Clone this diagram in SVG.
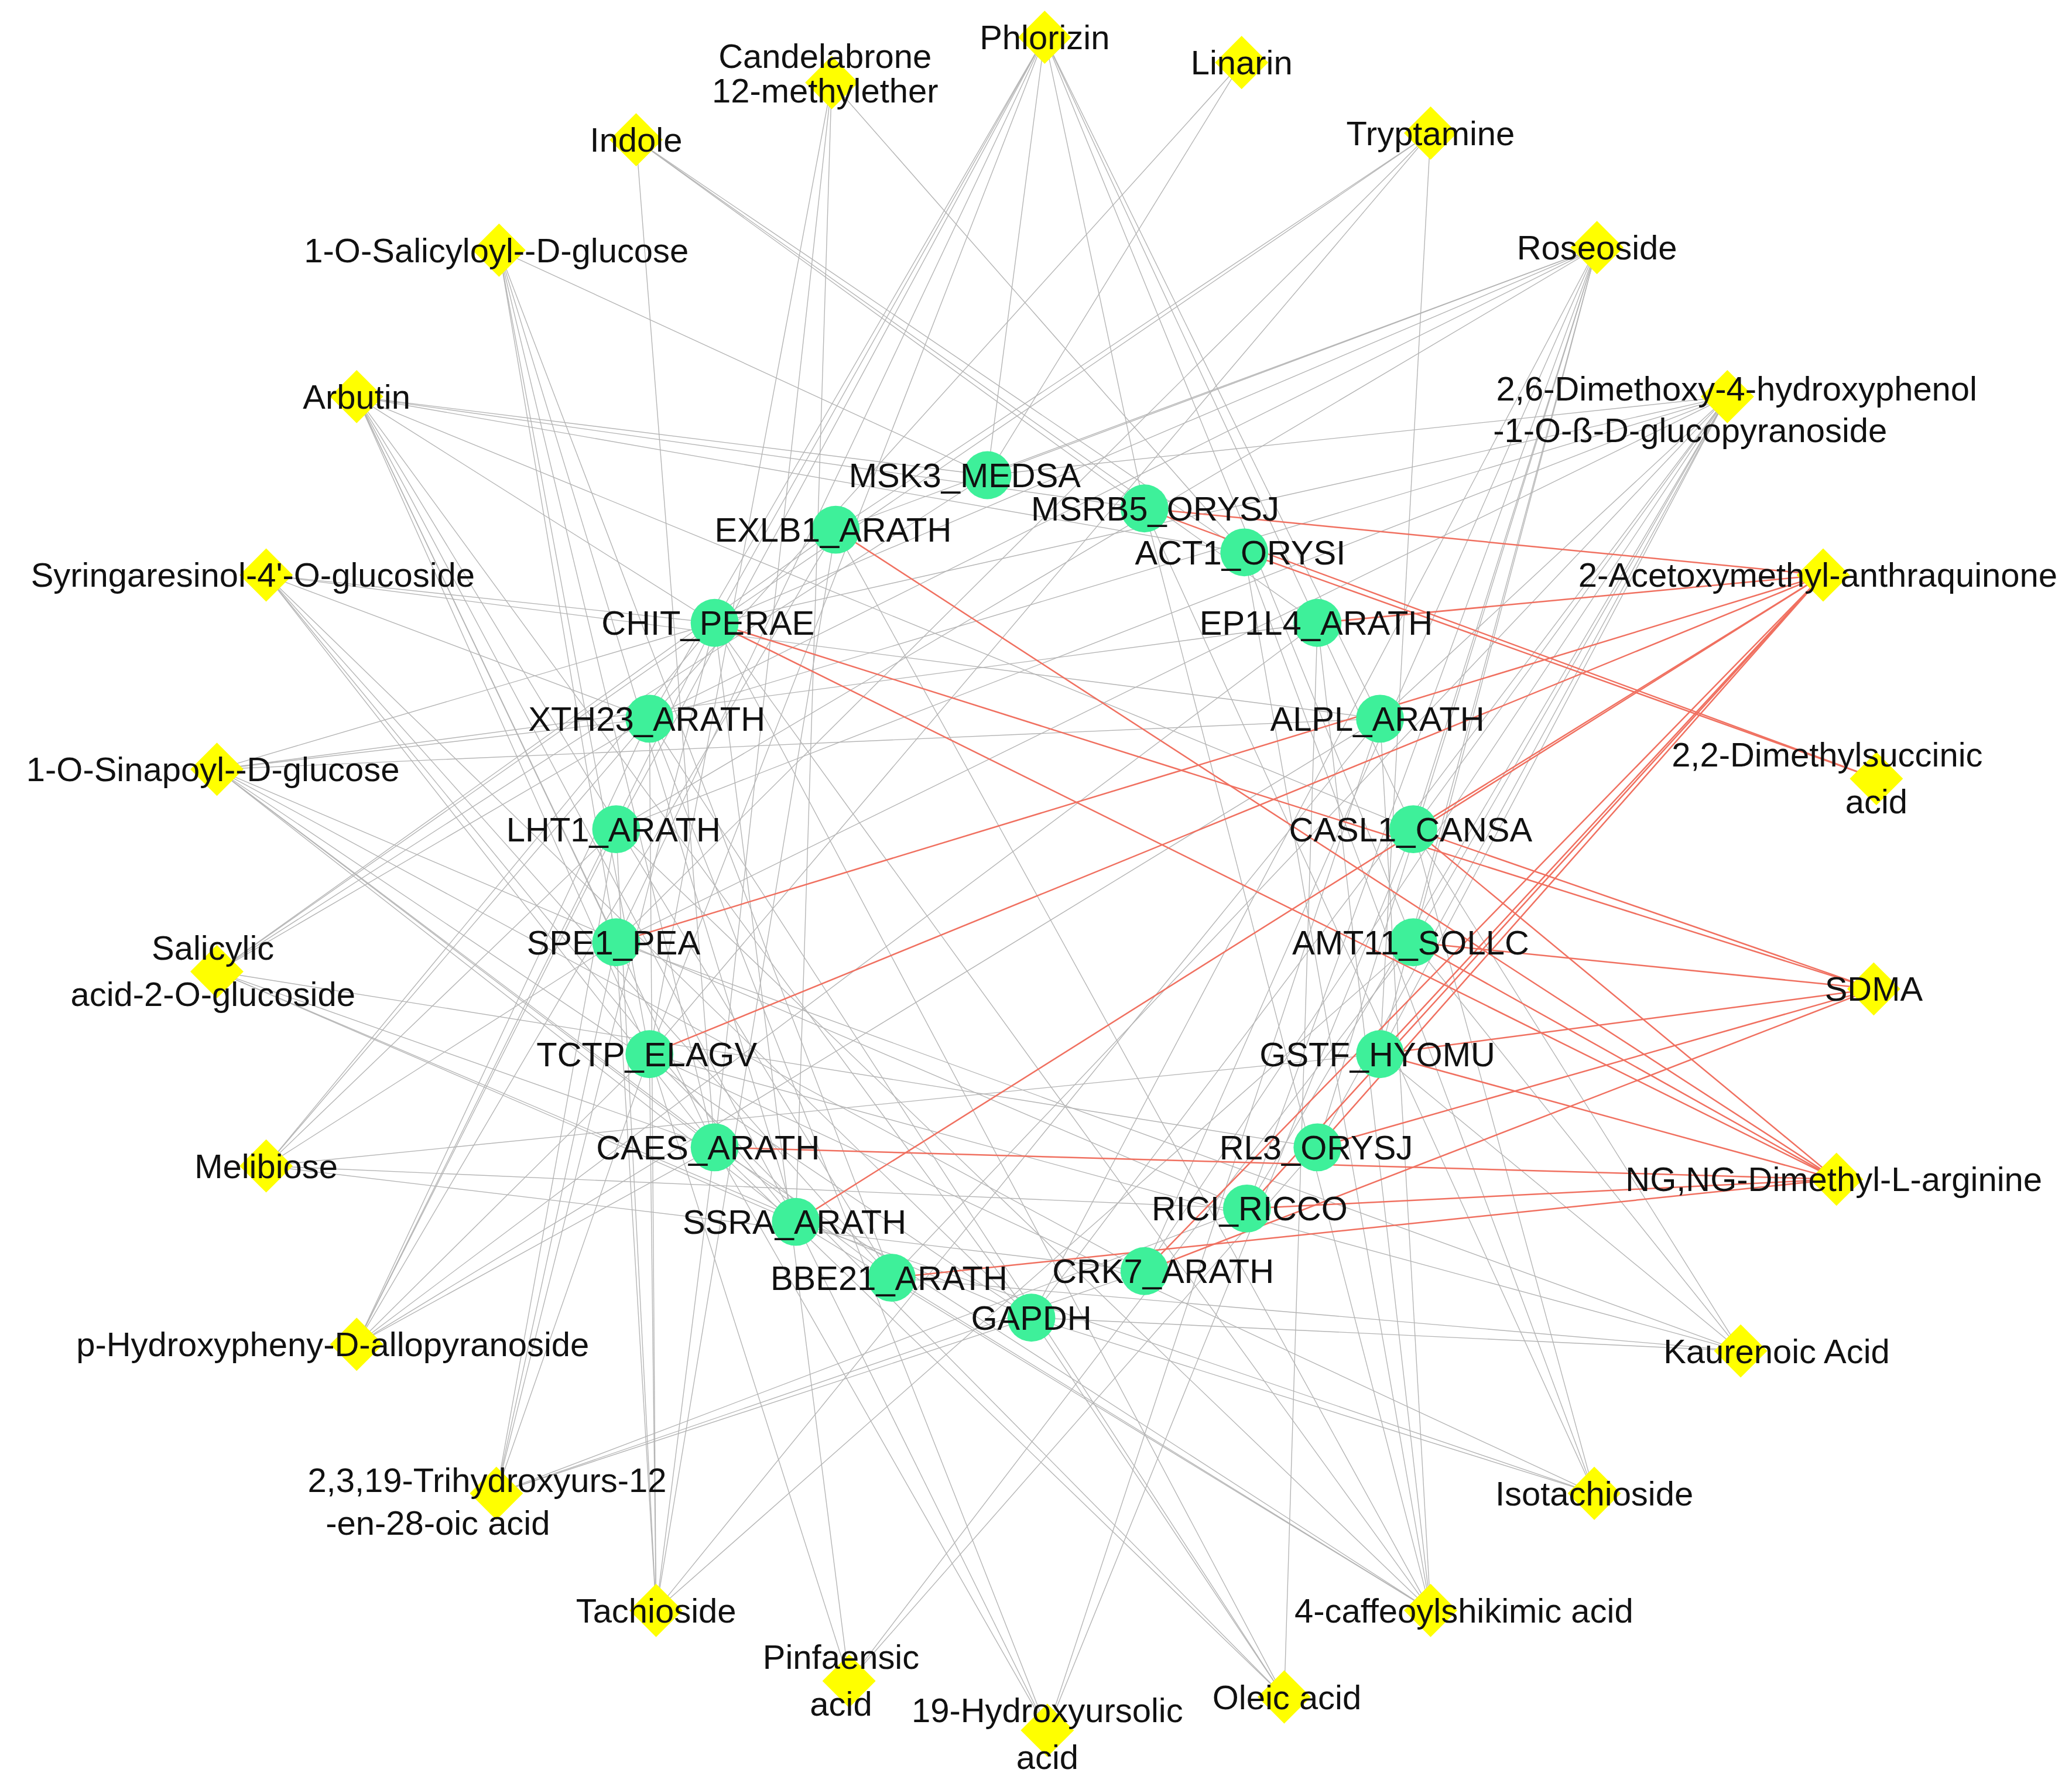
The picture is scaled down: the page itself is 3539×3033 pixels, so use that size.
<svg xmlns="http://www.w3.org/2000/svg" width="3539" height="3033" viewBox="0 0 3539 3033">
<style>
.g line{stroke:#b4b4b4;stroke-width:0.6}
.r line{stroke:#f07060;stroke-width:1.1}
.d{fill:#ffff00}
.c{fill:#3ef09a}
text{font-family:"Liberation Sans",Arial,sans-serif;font-size:25.5px;fill:#111;text-anchor:middle}
</style>
<defs>
<polygon id="dm" points="0,-20 20,0 0,20 -20,0" class="d"/>
</defs>
<rect width="3539" height="3033" fill="#fff"/>
<g transform="scale(2.273)">
<g id="connectors">
<g class="g">
<line x1="785" y1="28" x2="537" y2="468"/><line x1="785" y1="28" x2="488" y2="540"/><line x1="785" y1="28" x2="463" y2="623"/><line x1="785" y1="28" x2="463" y2="708"/><line x1="785" y1="28" x2="742" y2="357"/><line x1="785" y1="28" x2="860" y2="382"/><line x1="785" y1="28" x2="1037" y2="540"/><line x1="785" y1="28" x2="1062" y2="623"/><line x1="785" y1="28" x2="1062" y2="708"/><line x1="785" y1="28" x2="488" y2="792"/>
<line x1="625" y1="62" x2="537" y2="862"/><line x1="625" y1="62" x2="598" y2="918"/><line x1="625" y1="62" x2="488" y2="792"/><line x1="625" y1="62" x2="935" y2="415"/>
<line x1="933" y1="47" x2="742" y2="357"/><line x1="933" y1="47" x2="488" y2="540"/>
<line x1="478" y1="105" x2="860" y2="382"/><line x1="478" y1="105" x2="935" y2="415"/><line x1="478" y1="105" x2="990" y2="468"/><line x1="478" y1="105" x2="537" y2="862"/>
<line x1="1075" y1="100" x2="628" y2="398"/><line x1="1075" y1="100" x2="537" y2="468"/><line x1="1075" y1="100" x2="463" y2="708"/><line x1="1075" y1="100" x2="488" y2="792"/><line x1="1075" y1="100" x2="1037" y2="792"/>
<line x1="375" y1="188" x2="742" y2="357"/><line x1="375" y1="188" x2="463" y2="708"/><line x1="375" y1="188" x2="488" y2="792"/><line x1="375" y1="188" x2="537" y2="862"/><line x1="375" y1="188" x2="598" y2="918"/><line x1="375" y1="188" x2="670" y2="960"/>
<line x1="1200" y1="186" x2="742" y2="357"/><line x1="1200" y1="186" x2="628" y2="398"/><line x1="1200" y1="186" x2="537" y2="468"/><line x1="1200" y1="186" x2="488" y2="540"/><line x1="1200" y1="186" x2="463" y2="623"/><line x1="1200" y1="186" x2="1062" y2="623"/><line x1="1200" y1="186" x2="1062" y2="708"/><line x1="1200" y1="186" x2="1037" y2="792"/><line x1="1200" y1="186" x2="990" y2="862"/><line x1="1200" y1="186" x2="937" y2="908"/><line x1="1200" y1="186" x2="860" y2="955"/><line x1="1200" y1="186" x2="775" y2="990"/>
<line x1="268" y1="298" x2="742" y2="357"/><line x1="268" y1="298" x2="860" y2="382"/><line x1="268" y1="298" x2="935" y2="415"/><line x1="268" y1="298" x2="537" y2="468"/><line x1="268" y1="298" x2="463" y2="708"/><line x1="268" y1="298" x2="488" y2="792"/><line x1="268" y1="298" x2="537" y2="862"/><line x1="268" y1="298" x2="598" y2="918"/><line x1="268" y1="298" x2="670" y2="960"/><line x1="268" y1="298" x2="775" y2="990"/><line x1="268" y1="298" x2="1062" y2="623"/>
<line x1="1298" y1="298" x2="742" y2="357"/><line x1="1298" y1="298" x2="537" y2="468"/><line x1="1298" y1="298" x2="488" y2="540"/><line x1="1298" y1="298" x2="463" y2="623"/><line x1="1298" y1="298" x2="463" y2="708"/><line x1="1298" y1="298" x2="1037" y2="540"/><line x1="1298" y1="298" x2="1062" y2="623"/><line x1="1298" y1="298" x2="1062" y2="708"/><line x1="1298" y1="298" x2="1037" y2="792"/><line x1="1298" y1="298" x2="990" y2="862"/><line x1="1298" y1="298" x2="937" y2="908"/><line x1="1298" y1="298" x2="860" y2="955"/><line x1="1298" y1="298" x2="775" y2="990"/><line x1="1298" y1="298" x2="670" y2="960"/>
<line x1="200" y1="432" x2="537" y2="468"/><line x1="200" y1="432" x2="488" y2="540"/><line x1="200" y1="432" x2="1037" y2="540"/><line x1="200" y1="432" x2="537" y2="862"/><line x1="200" y1="432" x2="598" y2="918"/><line x1="200" y1="432" x2="670" y2="960"/><line x1="200" y1="432" x2="775" y2="990"/>
<line x1="163" y1="578" x2="537" y2="468"/><line x1="163" y1="578" x2="488" y2="540"/><line x1="163" y1="578" x2="990" y2="468"/><line x1="163" y1="578" x2="1037" y2="540"/><line x1="163" y1="578" x2="537" y2="862"/><line x1="163" y1="578" x2="598" y2="918"/><line x1="163" y1="578" x2="670" y2="960"/><line x1="163" y1="578" x2="775" y2="990"/><line x1="163" y1="578" x2="860" y2="955"/><line x1="163" y1="578" x2="937" y2="908"/>
<line x1="163" y1="730" x2="742" y2="357"/><line x1="163" y1="730" x2="628" y2="398"/><line x1="163" y1="730" x2="537" y2="468"/><line x1="163" y1="730" x2="488" y2="540"/><line x1="163" y1="730" x2="537" y2="862"/><line x1="163" y1="730" x2="598" y2="918"/><line x1="163" y1="730" x2="990" y2="862"/><line x1="163" y1="730" x2="775" y2="990"/>
<line x1="200" y1="876" x2="463" y2="623"/><line x1="200" y1="876" x2="463" y2="708"/><line x1="200" y1="876" x2="488" y2="540"/><line x1="200" y1="876" x2="537" y2="468"/><line x1="200" y1="876" x2="937" y2="908"/><line x1="200" y1="876" x2="860" y2="955"/><line x1="200" y1="876" x2="1037" y2="792"/>
<line x1="268" y1="1010" x2="628" y2="398"/><line x1="268" y1="1010" x2="537" y2="468"/><line x1="268" y1="1010" x2="488" y2="540"/><line x1="268" y1="1010" x2="463" y2="623"/><line x1="268" y1="1010" x2="990" y2="468"/><line x1="268" y1="1010" x2="1037" y2="540"/><line x1="268" y1="1010" x2="537" y2="862"/><line x1="268" y1="1010" x2="488" y2="792"/>
<line x1="1308" y1="1015" x2="1062" y2="623"/><line x1="1308" y1="1015" x2="1062" y2="708"/><line x1="1308" y1="1015" x2="1037" y2="792"/><line x1="1308" y1="1015" x2="488" y2="792"/><line x1="1308" y1="1015" x2="463" y2="708"/><line x1="1308" y1="1015" x2="670" y2="960"/><line x1="1308" y1="1015" x2="775" y2="990"/>
<line x1="373" y1="1122" x2="537" y2="468"/><line x1="373" y1="1122" x2="488" y2="792"/><line x1="373" y1="1122" x2="463" y2="708"/><line x1="373" y1="1122" x2="463" y2="623"/><line x1="373" y1="1122" x2="775" y2="990"/><line x1="373" y1="1122" x2="860" y2="955"/><line x1="373" y1="1122" x2="937" y2="908"/>
<line x1="1198" y1="1122" x2="860" y2="382"/><line x1="1198" y1="1122" x2="935" y2="415"/><line x1="1198" y1="1122" x2="1062" y2="623"/><line x1="1198" y1="1122" x2="775" y2="990"/><line x1="1198" y1="1122" x2="598" y2="918"/><line x1="1198" y1="1122" x2="488" y2="792"/>
<line x1="493" y1="1210" x2="488" y2="540"/><line x1="493" y1="1210" x2="463" y2="623"/><line x1="493" y1="1210" x2="463" y2="708"/><line x1="493" y1="1210" x2="488" y2="792"/><line x1="493" y1="1210" x2="537" y2="862"/><line x1="493" y1="1210" x2="628" y2="398"/><line x1="493" y1="1210" x2="1037" y2="540"/><line x1="493" y1="1210" x2="1062" y2="708"/>
<line x1="1075" y1="1210" x2="628" y2="398"/><line x1="1075" y1="1210" x2="537" y2="468"/><line x1="1075" y1="1210" x2="463" y2="623"/><line x1="1075" y1="1210" x2="537" y2="862"/><line x1="1075" y1="1210" x2="598" y2="918"/><line x1="1075" y1="1210" x2="670" y2="960"/><line x1="1075" y1="1210" x2="1037" y2="540"/><line x1="1075" y1="1210" x2="990" y2="468"/><line x1="1075" y1="1210" x2="935" y2="415"/><line x1="1075" y1="1210" x2="860" y2="382"/>
<line x1="638" y1="1263" x2="537" y2="468"/><line x1="638" y1="1263" x2="488" y2="792"/><line x1="638" y1="1263" x2="990" y2="862"/><line x1="638" y1="1263" x2="1062" y2="708"/>
<line x1="965" y1="1275" x2="537" y2="468"/><line x1="965" y1="1275" x2="488" y2="540"/><line x1="965" y1="1275" x2="488" y2="792"/><line x1="965" y1="1275" x2="537" y2="862"/><line x1="965" y1="1275" x2="775" y2="990"/><line x1="965" y1="1275" x2="990" y2="468"/>
<line x1="787" y1="1300" x2="537" y2="862"/><line x1="787" y1="1300" x2="598" y2="918"/><line x1="787" y1="1300" x2="488" y2="540"/><line x1="787" y1="1300" x2="1037" y2="540"/><line x1="787" y1="1300" x2="1062" y2="623"/>
</g>
<g class="r">
<line x1="1370" y1="432" x2="860" y2="382"/><line x1="1370" y1="432" x2="990" y2="468"/><line x1="1370" y1="432" x2="463" y2="708"/><line x1="1370" y1="432" x2="488" y2="792"/><line x1="1370" y1="432" x2="1062" y2="623"/><line x1="1370" y1="432" x2="1037" y2="792"/><line x1="1370" y1="432" x2="990" y2="862"/><line x1="1370" y1="432" x2="937" y2="908"/><line x1="1370" y1="432" x2="860" y2="955"/><line x1="1370" y1="432" x2="598" y2="918"/>
<line x1="1408" y1="743" x2="1062" y2="623"/><line x1="1408" y1="743" x2="1062" y2="708"/><line x1="1408" y1="743" x2="1037" y2="792"/><line x1="1408" y1="743" x2="990" y2="862"/><line x1="1408" y1="743" x2="860" y2="955"/><line x1="1408" y1="743" x2="537" y2="468"/>
<line x1="1380" y1="886" x2="628" y2="398"/><line x1="1380" y1="886" x2="1062" y2="623"/><line x1="1380" y1="886" x2="1062" y2="708"/><line x1="1380" y1="886" x2="1037" y2="792"/><line x1="1380" y1="886" x2="537" y2="862"/><line x1="1380" y1="886" x2="937" y2="908"/><line x1="1380" y1="886" x2="670" y2="960"/><line x1="1380" y1="886" x2="537" y2="468"/>
<line x1="1410" y1="585" x2="935" y2="415"/><line x1="1410" y1="585" x2="860" y2="382"/>
</g>
</g>
<g id="metabolites">
<g id="n-phlorizin"><use href="#dm" x="785" y="28"/><text x="785" y="37">Phlorizin</text></g>
<g id="n-candelabrone"><use href="#dm" x="625" y="62"/><text x="620" y="51">Candelabrone</text><text x="620" y="77">12-methylether</text></g>
<g id="n-linarin"><use href="#dm" x="933" y="47"/><text x="933" y="56">Linarin</text></g>
<g id="n-indole"><use href="#dm" x="478" y="105"/><text x="478" y="114">Indole</text></g>
<g id="n-tryptamine"><use href="#dm" x="1075" y="100"/><text x="1075" y="109">Tryptamine</text></g>
<g id="n-salicyloyl"><use href="#dm" x="375" y="188"/><text x="373" y="197">1-O-Salicyloyl--D-glucose</text></g>
<g id="n-roseoside"><use href="#dm" x="1200" y="186"/><text x="1200" y="195">Roseoside</text></g>
<g id="n-arbutin"><use href="#dm" x="268" y="298"/><text x="268" y="307">Arbutin</text></g>
<g id="n-dimethoxy"><use href="#dm" x="1298" y="298"/><text x="1305" y="301">2,6-Dimethoxy-4-hydroxyphenol</text><text x="1270" y="332">-1-O-ß-D-glucopyranoside</text></g>
<g id="n-syringaresinol"><use href="#dm" x="200" y="432"/><text x="190" y="441">Syringaresinol-4'-O-glucoside</text></g>
<g id="n-acetoxymethyl"><use href="#dm" x="1370" y="432"/><text x="1366" y="441">2-Acetoxymethyl-anthraquinone</text></g>
<g id="n-sinapoyl"><use href="#dm" x="163" y="578"/><text x="160" y="587">1-O-Sinapoyl--D-glucose</text></g>
<g id="n-dimethylsuccinic"><use href="#dm" x="1410" y="585"/><text x="1373" y="576">2,2-Dimethylsuccinic</text><text x="1410" y="611">acid</text></g>
<g id="n-salicylic"><use href="#dm" x="163" y="730"/><text x="160" y="721">Salicylic</text><text x="160" y="756">acid-2-O-glucoside</text></g>
<g id="n-sdma"><use href="#dm" x="1408" y="743"/><text x="1408" y="752">SDMA</text></g>
<g id="n-melibiose"><use href="#dm" x="200" y="876"/><text x="200" y="885">Melibiose</text></g>
<g id="n-ngng"><use href="#dm" x="1380" y="886"/><text x="1378" y="895">NG,NG-Dimethyl-L-arginine</text></g>
<g id="n-phydroxy"><use href="#dm" x="268" y="1010"/><text x="250" y="1019">p-Hydroxypheny-D-allopyranoside</text></g>
<g id="n-kaurenoic"><use href="#dm" x="1308" y="1015"/><text x="1335" y="1024">Kaurenoic Acid</text></g>
<g id="n-trihydroxy"><use href="#dm" x="373" y="1122"/><text x="366" y="1121">2,3,19-Trihydroxyurs-12</text><text x="329" y="1153">-en-28-oic acid</text></g>
<g id="n-isotachioside"><use href="#dm" x="1198" y="1122"/><text x="1198" y="1131">Isotachioside</text></g>
<g id="n-tachioside"><use href="#dm" x="493" y="1210"/><text x="493" y="1219">Tachioside</text></g>
<g id="n-caffeoyl"><use href="#dm" x="1075" y="1210"/><text x="1100" y="1219">4-caffeoylshikimic acid</text></g>
<g id="n-pinfaensic"><use href="#dm" x="638" y="1263"/><text x="632" y="1254">Pinfaensic</text><text x="632" y="1289">acid</text></g>
<g id="n-oleic"><use href="#dm" x="965" y="1275"/><text x="967" y="1284">Oleic acid</text></g>
<g id="n-hydroxyursolic"><use href="#dm" x="787" y="1300"/><text x="787" y="1294">19-Hydroxyursolic</text><text x="787" y="1329">acid</text></g>
</g>
<g id="proteins">
<g id="n-msk3"><circle class="c" cx="742" cy="357" r="18"/><text x="725" y="366">MSK3_MEDSA</text></g>
<g id="n-msrb5"><circle class="c" cx="860" cy="382" r="18"/><text x="868" y="391">MSRB5_ORYSJ</text></g>
<g id="n-exlb1"><circle class="c" cx="628" cy="398" r="18"/><text x="626" y="407">EXLB1_ARATH</text></g>
<g id="n-act1"><circle class="c" cx="935" cy="415" r="18"/><text x="932" y="424">ACT1_ORYSI</text></g>
<g id="n-chit"><circle class="c" cx="537" cy="468" r="18"/><text x="532" y="477">CHIT_PERAE</text></g>
<g id="n-ep1l4"><circle class="c" cx="990" cy="468" r="18"/><text x="989" y="477">EP1L4_ARATH</text></g>
<g id="n-xth23"><circle class="c" cx="488" cy="540" r="18"/><text x="486" y="549">XTH23_ARATH</text></g>
<g id="n-alpl"><circle class="c" cx="1037" cy="540" r="18"/><text x="1035" y="549">ALPL_ARATH</text></g>
<g id="n-lht1"><circle class="c" cx="463" cy="623" r="18"/><text x="461" y="632">LHT1_ARATH</text></g>
<g id="n-casl1"><circle class="c" cx="1062" cy="623" r="18"/><text x="1060" y="632">CASL1_CANSA</text></g>
<g id="n-spe1"><circle class="c" cx="463" cy="708" r="18"/><text x="461" y="717">SPE1_PEA</text></g>
<g id="n-amt11"><circle class="c" cx="1062" cy="708" r="18"/><text x="1060" y="717">AMT11_SOLLC</text></g>
<g id="n-tctp"><circle class="c" cx="488" cy="792" r="18"/><text x="486" y="801">TCTP_ELAGV</text></g>
<g id="n-gstf"><circle class="c" cx="1037" cy="792" r="18"/><text x="1035" y="801">GSTF_HYOMU</text></g>
<g id="n-caes"><circle class="c" cx="537" cy="862" r="18"/><text x="532" y="871">CAES_ARATH</text></g>
<g id="n-rl3"><circle class="c" cx="990" cy="862" r="18"/><text x="989" y="871">RL3_ORYSJ</text></g>
<g id="n-ssra"><circle class="c" cx="598" cy="918" r="18"/><text x="597" y="927">SSRA_ARATH</text></g>
<g id="n-rici"><circle class="c" cx="937" cy="908" r="18"/><text x="939" y="917">RICI_RICCO</text></g>
<g id="n-bbe21"><circle class="c" cx="670" cy="960" r="18"/><text x="668" y="969">BBE21_ARATH</text></g>
<g id="n-crk7"><circle class="c" cx="860" cy="955" r="18"/><text x="874" y="964">CRK7_ARATH</text></g>
<g id="n-gapdh"><circle class="c" cx="775" cy="990" r="18"/><text x="775" y="999">GAPDH</text></g>
</g>
</g>
</svg>
